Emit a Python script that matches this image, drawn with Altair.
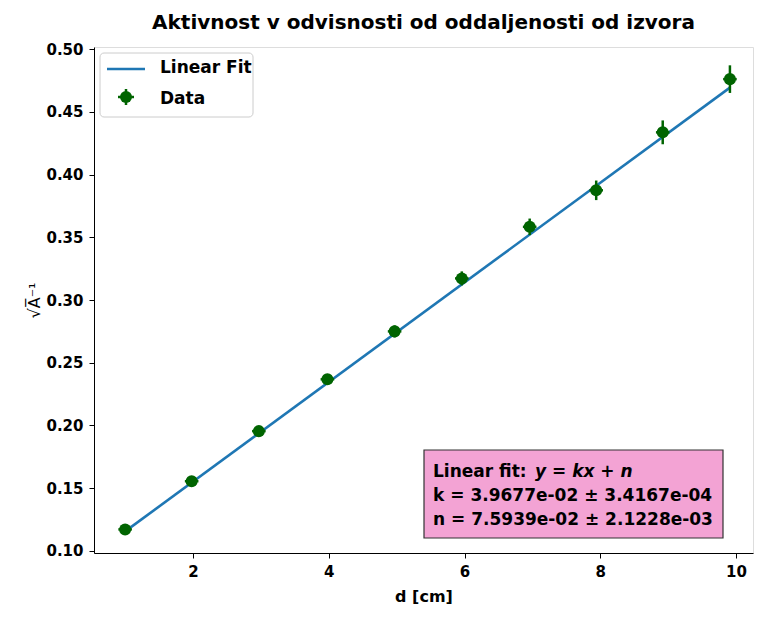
import altair as alt
import pandas as pd

# ---- data ----
d_cm = [1.0, 1.98, 2.97, 3.98, 4.97, 5.96, 6.96, 7.94, 8.92, 9.91]
y_val = [0.1172, 0.1556, 0.1955, 0.2368, 0.2750, 0.3172, 0.3583, 0.3874, 0.4336, 0.4760]
y_err = [0.0012, 0.002, 0.003, 0.004, 0.0048, 0.0056, 0.0066, 0.0078, 0.0095, 0.011]
x_err = [0.1, 0.1, 0.1, 0.1, 0.1, 0.1, 0.1, 0.1, 0.1, 0.1]

fit_x = [1.0, 9.91]
fit_y = [0.1156, 0.4692]

x_ticks = [2, 4, 6, 8, 10]
y_ticks = [0.10, 0.15, 0.20, 0.25, 0.30, 0.35, 0.40, 0.45, 0.50]

title_text = "Aktivnost v odvisnosti od oddaljenosti od izvora"
x_title = "d [cm]"
y_title = "√A̅⁻¹"
legend_labels = ["Linear Fit", "Data"]
box_lines = ["k = 3.9677e-02 ± 3.4167e-04", "n = 7.5939e-02 ± 2.1228e-03"]

BLUE = "#1f77b4"
GREEN = "#006400"
FONT = "DejaVu Sans"
BOLD = "bold"

df = pd.DataFrame({"d": d_cm, "y": y_val, "ye": y_err, "xe": x_err})
df_fit = pd.DataFrame({"d": fit_x, "y": fit_y})

W, H = 659, 506
xs = alt.Scale(domain=[0.5414, 10.25], nice=False, zero=False)
ys = alt.Scale(domain=[0.0984, 0.5016], nice=False, zero=False)

x_axis = alt.Axis(values=x_ticks, format="d", grid=False, tickSize=5, labelPadding=6,
                  title=x_title, titlePadding=9, labelFontSize=15, titleFontSize=16,
                  labelFontWeight=BOLD, titleFontWeight=BOLD,
                  domainColor="black", tickColor="black", labelColor="black", titleColor="black")
y_axis = alt.Axis(values=y_ticks, format=".2f", grid=False, tickSize=5, labelPadding=6,
                  title=y_title, titleX=-52, labelFontSize=15, titleFontSize=16,
                  labelFontWeight=BOLD, titleFontWeight="normal",
                  domainColor="black", tickColor="black", labelColor="black", titleColor="black")

base = alt.Chart(df)

fit_line = alt.Chart(df_fit).mark_line(color=BLUE, strokeWidth=2.6).encode(
    x=alt.X("d:Q", scale=xs, axis=x_axis),
    y=alt.Y("y:Q", scale=ys, axis=y_axis),
)

yerr_rule = base.transform_calculate(
    lo="datum.y - datum.ye", hi="datum.y + datum.ye"
).mark_rule(color=GREEN, strokeWidth=2.5).encode(
    x=alt.X("d:Q", scale=xs),
    y=alt.Y("lo:Q", scale=ys),
    y2="hi:Q",
)
xerr_rule = base.transform_calculate(
    lo="datum.d - datum.xe", hi="datum.d + datum.xe"
).mark_rule(color=GREEN, strokeWidth=2.5).encode(
    x=alt.X("lo:Q", scale=xs),
    x2="hi:Q",
    y=alt.Y("y:Q", scale=ys),
)
pts = base.mark_circle(color=GREEN, opacity=1, size=145).encode(
    x=alt.X("d:Q", scale=xs),
    y=alt.Y("y:Q", scale=ys),
)

# ---- legend (annotation, in pixel space of the plot area) ----
leg_df = pd.DataFrame({"label": legend_labels})
leg_box = alt.Chart(leg_df).transform_filter("datum.label == 'Data'").mark_rect(
    fill="white", fillOpacity=0.85, stroke="#cccccc", strokeWidth=1, cornerRadius=4
).encode(x=alt.value(6), x2=alt.value(159), y=alt.value(6), y2=alt.value(70))
leg_line = alt.Chart(leg_df).transform_filter("datum.label == 'Linear Fit'").mark_rule(
    color=BLUE, strokeWidth=2.6
).encode(x=alt.value(13), x2=alt.value(51), y=alt.value(22))
leg_vbar = alt.Chart(leg_df).transform_filter("datum.label == 'Data'").mark_rule(
    color=GREEN, strokeWidth=2.5
).encode(x=alt.value(32), y=alt.value(42), y2=alt.value(58))
leg_hbar = alt.Chart(leg_df).transform_filter("datum.label == 'Data'").mark_rule(
    color=GREEN, strokeWidth=2.5
).encode(x=alt.value(24), x2=alt.value(40), y=alt.value(50))
leg_pt = alt.Chart(leg_df).transform_filter("datum.label == 'Data'").mark_circle(
    color=GREEN, opacity=1, size=145
).encode(x=alt.value(32), y=alt.value(50))
leg_txt = alt.Chart(leg_df).transform_calculate(
    yy="datum.label == 'Data' ? 52 : 21"
).mark_text(align="left", baseline="middle", fontSize=17, font=FONT, fontWeight=BOLD,
            color="black").encode(
    x=alt.value(66), y=alt.Y("yy:Q", scale=None), text="label:N"
)

# ---- fit parameter box ----
box_df = pd.DataFrame({"line": box_lines, "pos": [449, 473]})
pink_box = alt.Chart(box_df).transform_filter("datum.pos == 449").mark_rect(
    fill="#f3a3d4", stroke="#333333", strokeWidth=1.2
).encode(x=alt.value(330), x2=alt.value(629), y=alt.value(403), y2=alt.value(491))
box_txt = alt.Chart(box_df).mark_text(
    align="left", baseline="middle", fontSize=17, font=FONT, fontWeight=BOLD, color="black"
).encode(x=alt.value(339), y=alt.Y("pos:Q", scale=None), text="line:N")
hdr_df = pd.DataFrame({"t": ["Linear fit:", "y = kx + n"], "xx": [339, 441], "st": ["normal", "italic"]})
hdr_norm = alt.Chart(hdr_df).transform_filter("datum.st == 'normal'").mark_text(
    align="left", baseline="middle", fontSize=17, font=FONT, fontWeight=BOLD, color="black"
).encode(x=alt.X("xx:Q", scale=None), y=alt.value(425), text="t:N")
hdr_ital = alt.Chart(hdr_df).transform_filter("datum.st == 'italic'").mark_text(
    align="left", baseline="middle", fontSize=17, font=FONT, fontWeight=BOLD, color="black",
    fontStyle="italic"
).encode(x=alt.X("xx:Q", scale=None), y=alt.value(425), text="t:N")

chart = alt.layer(
    fit_line, yerr_rule, xerr_rule, pts,
    leg_box, leg_line, leg_vbar, leg_hbar, leg_pt, leg_txt,
    pink_box, box_txt, hdr_norm, hdr_ital,
).properties(
    width=W, height=H,
    title=alt.TitleParams(title_text, fontSize=20, font=FONT, fontWeight=BOLD,
                          anchor="middle", offset=9, color="black"),
    autosize=alt.AutoSizeParams(type="none"),
    padding={"left": 86, "top": 39, "right": 2, "bottom": 58},
).configure_view(stroke="black", strokeWidth=1.5).configure(font=FONT)

chart.save("out.html", embed_options={"renderer": "svg", "actions": False})
